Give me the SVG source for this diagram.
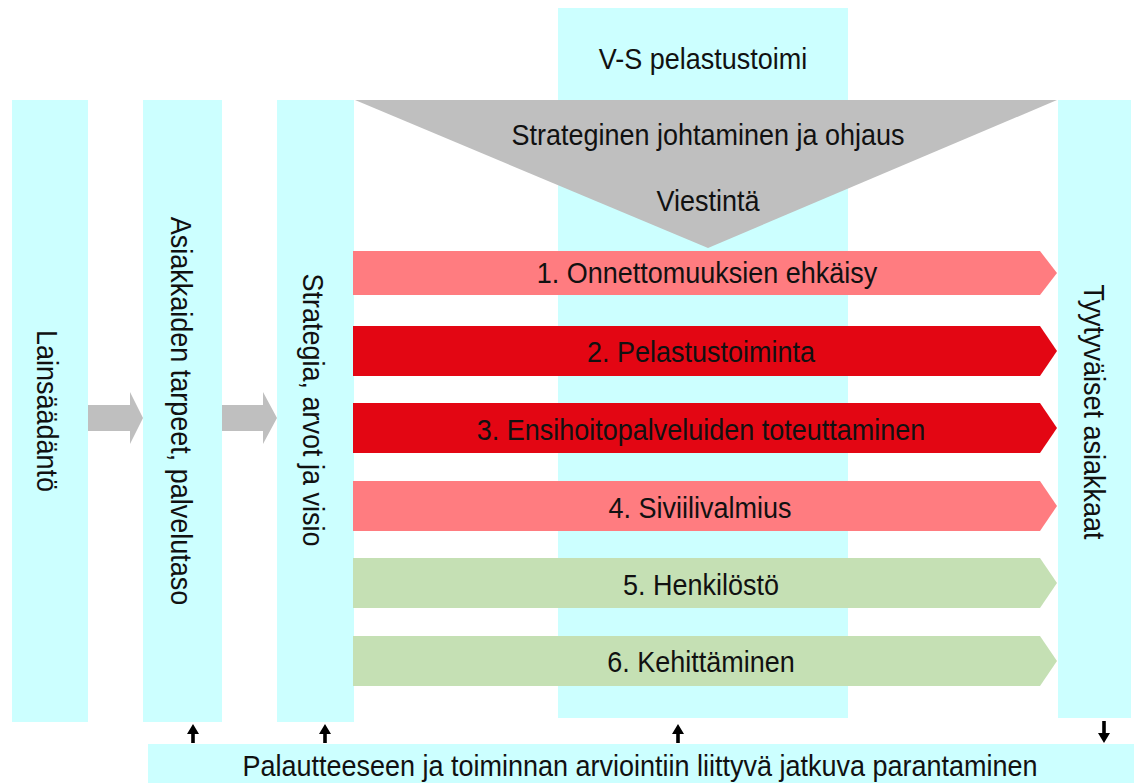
<svg xmlns="http://www.w3.org/2000/svg" width="1134" height="783" viewBox="0 0 1134 783">
<style>
.col{fill:#CCFFFF}
.t{font-family:"Liberation Sans",Arial,sans-serif;font-size:30px;fill:#111;text-anchor:middle;dominant-baseline:central}
.g{fill:#BFBFBF}
.r1{fill:#FF7C80}
.r2{fill:#E30613}
.gr{fill:#C5E0B4}
.sa{fill:#000}
</style>
<rect width="1134" height="783" fill="#fff"/>
<g id="vs">
<rect class="col" x="558" y="8" width="290" height="710"/>
<text class="t" transform="translate(703,58) scale(0.9,1)">V-S pelastustoimi</text>
</g>
<g id="lainsaadanto">
<rect class="col" x="12" y="100" width="76" height="622"/>
<text class="t" transform="translate(48,411) rotate(90) scale(0.9,1)">Lainsäädäntö</text>
</g>
<g id="asiakkaiden">
<rect class="col" x="143" y="100" width="79" height="622"/>
<text class="t" transform="translate(182,411) rotate(90) scale(0.9,1)">Asiakkaiden tarpeet, palvelutaso</text>
</g>
<g id="strategia">
<rect class="col" x="277" y="100" width="77" height="622"/>
<text class="t" transform="translate(314,410) rotate(90) scale(0.9,1)">Strategia, arvot ja visio</text>
</g>
<g id="tyytyvaiset">
<rect class="col" x="1058" y="100" width="73" height="618"/>
<text class="t" transform="translate(1095,412) rotate(90) scale(0.9,1)">Tyytyväiset asiakkaat</text>
</g>
<g id="triangle">
<polygon class="g" points="355,100 1057,100 708,248"/>
<text class="t" transform="translate(708,134) scale(0.9,1)">Strateginen johtaminen ja ohjaus</text>
<text class="t" transform="translate(708,200) scale(0.9,1)">Viestintä</text>
</g>
<g id="a1"><polygon class="r1" points="353,251 1040,251 1057,273 1040,295 353,295"/><text class="t" transform="translate(707,272) scale(0.9,1)">1. Onnettomuuksien ehkäisy</text></g>
<g id="a2"><polygon class="r2" points="353,326 1040,326 1057,351 1040,376 353,376"/><text class="t" transform="translate(701,351) scale(0.9,1)">2. Pelastustoiminta</text></g>
<g id="a3"><polygon class="r2" points="353,403 1040,403 1057,428 1040,453 353,453"/><text class="t" transform="translate(701,429) scale(0.9,1)">3. Ensihoitopalveluiden toteuttaminen</text></g>
<g id="a4"><polygon class="r1" points="353,481 1040,481 1057,506 1040,531 353,531"/><text class="t" transform="translate(700,507) scale(0.9,1)">4. Siviilivalmius</text></g>
<g id="a5"><polygon class="gr" points="353,558 1040,558 1057,583 1040,608 353,608"/><text class="t" transform="translate(701,584) scale(0.9,1)">5. Henkilöstö</text></g>
<g id="a6"><polygon class="gr" points="353,636 1040,636 1057,661 1040,686 353,686"/><text class="t" transform="translate(701,661) scale(0.9,1)">6. Kehittäminen</text></g>
<g id="bottom">
<rect class="col" x="148" y="744" width="986" height="39"/>
<text class="t" transform="translate(640,765) scale(0.9,1)">Palautteeseen ja toiminnan arviointiin liittyvä jatkuva parantaminen</text>
</g>
<g id="connectors">
<polygon class="g" points="88,405 130,405 130,392 143,418 130,444 130,431 88,431"/>
<polygon class="g" points="222,405 263,405 263,392 277,418 263,444 263,431 222,431"/>
<path class="sa" d="M193,724 L199,734 L194.8,734 L194.8,743 L191.2,743 L191.2,734 L187,734 z"/>
<path class="sa" d="M325,724 L331,734 L326.8,734 L326.8,743 L323.2,743 L323.2,734 L319,734 z"/>
<path class="sa" d="M678,724 L684,734 L679.8,734 L679.8,743 L676.2,743 L676.2,734 L672,734 z"/>
<path class="sa" d="M1104,743 L1110,733 L1105.8,733 L1105.8,721 L1102.2,721 L1102.2,733 L1098,733 z"/>
</g>
</svg>
